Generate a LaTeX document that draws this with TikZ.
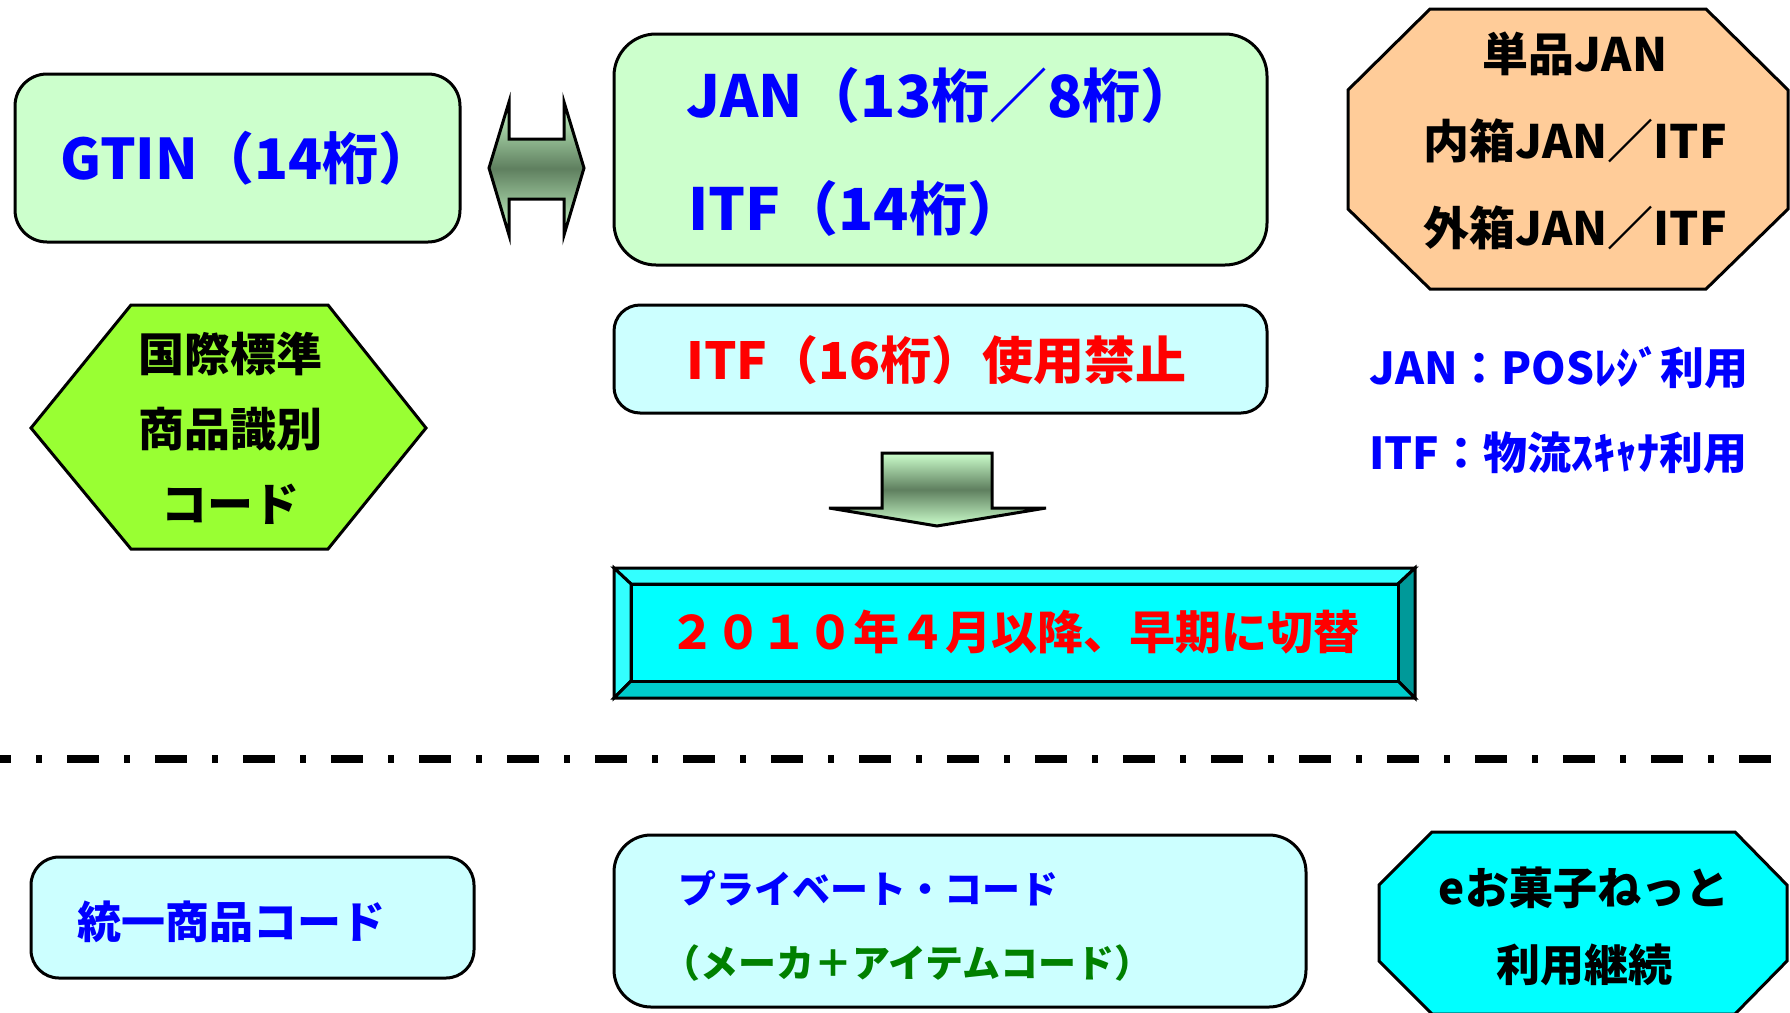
\documentclass[tikz,border=0pt]{standalone}
\usepackage{fontspec}
\setmainfont{Noto Sans CJK JP}
\usetikzlibrary{arrows.meta, positioning, shapes}

\definecolor{boxgreen}{HTML}{CCFFCC}
\definecolor{boxcyan}{HTML}{CCFFFF}
\definecolor{hexgreen}{HTML}{99FF33}
\definecolor{peach}{HTML}{FFCC99}
\definecolor{aqua}{HTML}{00FFFF}
\definecolor{aqualight}{HTML}{33FFFF}
\definecolor{aquamid}{HTML}{00CCCC}
\definecolor{aquadark}{HTML}{009999}
\definecolor{arrowdark}{HTML}{5F7F5F}
\definecolor{codegreen}{HTML}{008000}

\newcommand{\ptsize}[1]{\fontsize{#1}{#1}\selectfont\bfseries}

\begin{document}
\begin{tikzpicture}[x=1pt, y=-1pt,
    outline/.style={draw=black, line width=3pt},
    codebox/.style={outline, rounded corners=#1, inner sep=0pt},
    txt/.style={inner sep=0pt, anchor=west},
    arrowfill/.style={outline, top color=boxgreen, bottom color=boxgreen, middle color=arrowdark}
]
    \useasboundingbox (0,0) rectangle (1790,1012);

    % Draw GTIN box
    \node[codebox=32pt, fill=boxgreen, minimum width=445pt, minimum height=168pt] (gtin) at (237.5,158) {};
    \node[txt, text=blue, font=\ptsize{56}] (gtintext) at (60,158) {GTIN（14桁）};

    % Draw double arrow between GTIN and JAN
    \draw[arrowfill] (489,168) -- (509,102) -- (509,139) -- (564,139) -- (564,102)
        -- (584,168) -- (564,235) -- (564,199) -- (509,199) -- (509,235) -- cycle;

    % Draw JAN / ITF box
    \node[codebox=42pt, fill=boxgreen, minimum width=653pt, minimum height=231pt] (jan) at (940.5,149.5) {};
    \node[txt, text=blue, font=\ptsize{58}] (jantext) at (686,95) {JAN（13桁／8桁）};
    \node[txt, text=blue, font=\ptsize{58}] (itftext) at (688,208) {ITF（14桁）};

    % Draw ITF 16 box
    \node[codebox=26pt, fill=boxcyan, minimum width=653pt, minimum height=108pt] (itf16) at (940.5,359) {};
    \node[txt, text=red, font=\ptsize{51}] (itf16text) at (686,360) {ITF（16桁）使用禁止};

    % Draw top octagon
    \filldraw[outline, fill=peach] (1430,9) -- (1706,9) -- (1788,90) -- (1788,209)
        -- (1706,289) -- (1430,289) -- (1348,209) -- (1348,90) -- cycle;
    \node[align=center, font=\fontsize{46}{87}\selectfont\bfseries] (units) at (1575,141)
        {単品JAN\\内箱JAN／ITF\\外箱JAN／ITF};

    % Draw hexagon
    \filldraw[outline, fill=hexgreen] (31,428) -- (131,305) -- (328,305) -- (426,428)
        -- (328,549) -- (131,549) -- cycle;
    \node[align=center, font=\fontsize{46}{75}\selectfont\bfseries] (gtinname) at (230,428)
        {国際標準\\商品識別\\コード};

    % Add usage notes
    \node[txt, text=blue, font=\ptsize{44}] (posnote) at (1369,368) {JAN：POSﾚｼﾞ利用};
    \node[txt, text=blue, font=\ptsize{44}] (scannote) at (1369,453) {ITF：物流ｽｷｬﾅ利用};

    % Draw down arrow
    \draw[arrowfill] (882,453) -- (992,453) -- (992,508) -- (1046,508) -- (937,526)
        -- (829,508) -- (882,508) -- cycle;

    % Draw bevel box
    \filldraw[outline, fill=aqualight] (614,568) -- (1415,568) -- (1398,584) -- (631,584) -- cycle;
    \filldraw[outline, fill=aqualight] (614,568) -- (631,584) -- (631,681) -- (614,698) -- cycle;
    \filldraw[outline, fill=aquadark] (1415,568) -- (1415,698) -- (1398,681) -- (1398,584) -- cycle;
    \filldraw[outline, fill=aquamid] (614,698) -- (1415,698) -- (1398,681) -- (631,681) -- cycle;
    \node[outline, fill=aqua, minimum width=767pt, minimum height=97pt, inner sep=0pt,
          text=red, font=\ptsize{46}] (switch) at (1014.5,632.5) {２０１０年４月以降、早期に切替};

    % Draw separator
    \draw[line width=8pt, dash pattern=on 32pt off 25pt on 6pt off 25pt, dash phase=21pt]
        (0,759) -- (1790,759);

    % Draw unified code box
    \node[codebox=28pt, fill=boxcyan, minimum width=443pt, minimum height=121pt] (unified) at (252.5,917.5) {};
    \node[txt, text=blue, font=\ptsize{44}] (unifiedtext) at (77,922) {統一商品コード};

    % Draw private code box
    \node[codebox=37pt, fill=boxcyan, minimum width=692pt, minimum height=172pt] (private) at (960,921) {};
    \node[txt, text=blue, font=\ptsize{38}] (privtext) at (678,888) {プライベート・コード};
    \node[txt, text=codegreen, font=\ptsize{38}] (privnote) at (662,963) {（メーカ＋アイテムコード）};

    % Draw bottom octagon
    \filldraw[outline, fill=aqua] (1432,832) -- (1735,832) -- (1787,885) -- (1787,961)
        -- (1735,1014) -- (1432,1014) -- (1379,961) -- (1379,885) -- cycle;
    \node[align=center, font=\fontsize{44}{77}\selectfont\bfseries] (okashi) at (1584,926)
        {eお菓子ねっと\\利用継続};

\end{tikzpicture}
\end{document}
